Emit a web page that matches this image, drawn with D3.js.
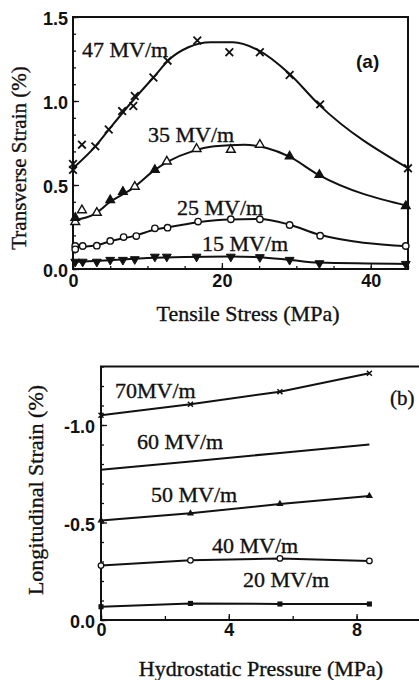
<!DOCTYPE html>
<html>
<head>
<meta charset="utf-8">
<script src="https://cdn.jsdelivr.net/npm/d3@7"></script>
<style>
  html, body { margin: 0; padding: 0; background: #fff; }
  svg { display: block; }
  .serif { font-family: "Liberation Serif", "Times New Roman", serif; fill: #111; stroke: #111; stroke-width: 0.35px; }
  .sans { font-family: "Liberation Sans", Arial, sans-serif; font-weight: bold; fill: #111; }
</style>
</head>
<body>
<svg id="chart" width="419" height="680"></svg>
<script>
// ---------- Panel (a): transverse strain vs tensile stress ----------
const stressTicks = [0, 20, 40];
const transverseTicks = [0, 0.5, 1.0, 1.5];

// measured points [stress MPa, strain %]
const pts47 = [[0,0.625],[0,0.59],[1.2,0.74],[3.0,0.73],[4.8,0.83],[6.6,0.94],[8.1,0.97],[8.3,1.03],[10.8,1.14],[12.7,1.24],[16.7,1.36],[21.0,1.29],[25.1,1.29],[29.1,1.155],[33.2,0.98],[45,0.60]];
const pts35Open = [[0.3,0.28],[1.2,0.35],[3.2,0.335],[8.3,0.49],[12.6,0.64],[16.6,0.715],[21.2,0.71],[25.1,0.74]];
const pts35Filled = [[0.3,0.305],[5.0,0.41],[6.7,0.46],[11.0,0.59],[29.1,0.67],[33.1,0.56],[44.7,0.375]];
const pts25 = [[0.3,0.137],[0.3,0.117],[1.3,0.137],[3.2,0.139],[5.0,0.167],[6.8,0.19],[8.5,0.196],[11.0,0.242],[12.7,0.246],[16.8,0.282],[21.2,0.296],[25.1,0.296],[29.1,0.262],[33.2,0.198],[44.7,0.137]];
const pts15 = [[0.3,0.043],[1.3,0.043],[3.2,0.043],[5.0,0.054],[6.7,0.054],[8.3,0.058],[11.0,0.073],[12.6,0.073],[16.6,0.073],[21.2,0.073],[25.1,0.07],[29.1,0.054],[33.1,0.034],[44.7,0.03]];

// fitted curves through the measurements
const fit47 = [[0,0.60],[3,0.73],[5,0.84],[8,1.00],[10.8,1.14],[13,1.25],[15.5,1.32],[18.5,1.35],[21.5,1.35],[25,1.30],[29,1.165],[33,0.98],[45,0.60]];
const fit35 = [[0,0.29],[3,0.33],[5,0.40],[8,0.48],[11,0.59],[13,0.645],[16,0.70],[19,0.73],[23,0.74],[26,0.72],[29,0.67],[33,0.56],[45,0.375]];
const fit25 = [[0,0.13],[3,0.14],[5,0.165],[8.5,0.20],[11,0.235],[13,0.25],[17,0.28],[21,0.295],[25,0.297],[29,0.265],[33,0.205],[45,0.135]];
const fit15 = [[0,0.042],[5,0.052],[10,0.065],[15,0.072],[21,0.075],[25,0.07],[29,0.055],[33,0.038],[45,0.03]];

const labelsA = ["47 MV/m", "35 MV/m", "25 MV/m", "15 MV/m"];

// ---------- Panel (b): longitudinal strain vs hydrostatic pressure ----------
const pressureTicks = [0, 4, 8];
const longitudinalTicks = [0, -0.5, -1.0];
const pressures = [0, 2.8, 5.6, 8.4];
const long70 = [-1.05, -1.106, -1.171, -1.265];
const long60 = [-0.77, -0.813, -0.857, -0.90];
const long50 = [-0.51, -0.547, -0.595, -0.636];
const long40 = [-0.279, -0.306, -0.316, -0.303];
const long20 = [-0.068, -0.085, -0.082, -0.082];
const labelsB = ["70MV/m", "60 MV/m", "50 MV/m", "40 MV/m", "20 MV/m"];

const svg = d3.select("#chart");
svg.append("rect").attr("width", 419).attr("height", 680).attr("fill", "#fff");

// ===== panel (a) =====
const xA = d3.scaleLinear().domain([0, 45]).range([73, 408]);
const yA = d3.scaleLinear().domain([0, 1.5]).range([269, 17]);
const gA = svg.append("g");

// minor ticks
gA.append("g").attr("transform", "translate(73,0)")
  .call(d3.axisLeft(yA).tickValues(d3.range(0, 1.5001, 0.1)).tickSize(-3).tickFormat(""))
  .call(g => g.select(".domain").remove());
gA.append("g").attr("transform", "translate(0,269)")
  .call(d3.axisBottom(xA).tickValues(d3.range(0, 45.01, 5)).tickSize(-3).tickFormat(""))
  .call(g => g.select(".domain").remove());

const axYA = gA.append("g").attr("transform", "translate(73,0)")
  .call(d3.axisLeft(yA).tickValues(transverseTicks).tickSize(-6).tickPadding(5).tickFormat(d => d.toFixed(1)));
axYA.select(".domain").remove();
axYA.selectAll("text").attr("class", "sans").attr("font-size", 18).attr("dy", "0.42em");

const axXA = gA.append("g").attr("transform", "translate(0,269)")
  .call(d3.axisBottom(xA).tickValues(stressTicks).tickSize(-6).tickPadding(5));
axXA.select(".domain").remove();
axXA.selectAll("text").attr("class", "sans").attr("font-size", 18);
gA.selectAll(".tick line").attr("stroke", "#111").attr("stroke-width", 1.3);

gA.append("rect").attr("x", xA(0)).attr("y", yA(1.5))
  .attr("width", xA(45) - xA(0)).attr("height", yA(0) - yA(1.5))
  .attr("fill", "none").attr("stroke", "#111").attr("stroke-width", 2);

const lineA = d3.line().x(d => xA(d[0])).y(d => yA(d[1])).curve(d3.curveMonotoneX);
[fit47, fit35, fit25, fit15].forEach(f => {
  gA.append("path").datum(f).attr("d", lineA)
    .attr("fill", "none").attr("stroke", "#111").attr("stroke-width", 2);
});

// markers
const cross = d3.symbol().type(d3.symbolX).size(40);
gA.append("g").selectAll("path").data(pts47).join("path")
  .attr("transform", d => `translate(${xA(d[0])},${yA(d[1])})`)
  .attr("d", cross).attr("fill", "none").attr("stroke", "#111").attr("stroke-width", 1.8);

const tri = d3.symbol().type(d3.symbolTriangle).size(34);
gA.append("g").selectAll("path").data(pts35Open).join("path")
  .attr("transform", d => `translate(${xA(d[0])},${yA(d[1])})`)
  .attr("d", tri).attr("fill", "#fff").attr("stroke", "#111").attr("stroke-width", 1.4);
gA.append("g").selectAll("path").data(pts35Filled).join("path")
  .attr("transform", d => `translate(${xA(d[0])},${yA(d[1])})`)
  .attr("d", tri).attr("fill", "#111").attr("stroke", "#111").attr("stroke-width", 1.2);

gA.append("g").selectAll("circle").data(pts25).join("circle")
  .attr("cx", d => xA(d[0])).attr("cy", d => yA(d[1])).attr("r", 3.2)
  .attr("fill", "#fff").attr("stroke", "#111").attr("stroke-width", 1.4);

gA.append("g").selectAll("path").data(pts15).join("path")
  .attr("transform", d => `translate(${xA(d[0])},${yA(d[1])}) rotate(180)`)
  .attr("d", tri).attr("fill", "#111").attr("stroke", "#111").attr("stroke-width", 1);

const labPosA = [[82, 57], [148, 142], [177, 215], [202, 251]];
labelsA.forEach((t, i) => {
  gA.append("text").attr("class", "serif").attr("font-size", 22)
    .attr("x", labPosA[i][0]).attr("y", labPosA[i][1]).text(t);
});
gA.append("text").attr("class", "sans").attr("font-size", 19)
  .attr("x", 356).attr("y", 68).text("(a)");

gA.append("text").attr("class", "serif").attr("font-size", 22)
  .attr("text-anchor", "middle").attr("x", 248).attr("y", 321).text("Tensile Stress (MPa)");
gA.append("text").attr("class", "serif").attr("font-size", 21)
  .attr("text-anchor", "middle").attr("transform", "translate(26,158) rotate(-90)")
  .text("Transverse Strain (%)");

// ===== panel (b) =====
const xB = d3.scaleLinear().domain([0, 10]).range([101, 420.5]);
const yB = d3.scaleLinear().domain([0, -1.3]).range([620, 366.5]);
const gB = svg.append("g");

gB.append("g").attr("transform", "translate(101,0)")
  .call(d3.axisLeft(yB).tickValues(d3.range(0, -1.3001, -0.1)).tickSize(-3).tickFormat(""))
  .call(g => g.select(".domain").remove());
gB.append("g").attr("transform", "translate(0,620)")
  .call(d3.axisBottom(xB).tickValues(d3.range(0, 10.01, 2)).tickSize(-4).tickFormat(""))
  .call(g => g.select(".domain").remove());

const axYB = gB.append("g").attr("transform", "translate(101,0)")
  .call(d3.axisLeft(yB).tickValues(longitudinalTicks).tickSize(-6).tickPadding(6).tickFormat(d => d.toFixed(1)));
axYB.select(".domain").remove();
axYB.selectAll("text").attr("class", "sans").attr("font-size", 18).attr("dy", "0.42em");

const axXB = gB.append("g").attr("transform", "translate(0,620)")
  .call(d3.axisBottom(xB).tickValues(pressureTicks).tickSize(-6).tickPadding(3));
axXB.select(".domain").remove();
axXB.selectAll("text").attr("class", "sans").attr("font-size", 18);
gB.selectAll(".tick line").attr("stroke", "#111").attr("stroke-width", 1.3);

gB.append("rect").attr("x", xB(0)).attr("y", yB(-1.3))
  .attr("width", xB(10) - xB(0)).attr("height", yB(0) - yB(-1.3))
  .attr("fill", "none").attr("stroke", "#111").attr("stroke-width", 2);

const lineB = d3.line().x(d => xB(d[0])).y(d => yB(d[1]));
const seriesB = [long70, long60, long50, long40, long20].map(v => v.map((s, i) => [pressures[i], s]));
seriesB.forEach(s => {
  gB.append("path").datum(s).attr("d", lineB)
    .attr("fill", "none").attr("stroke", "#111").attr("stroke-width", 2);
});

const smallX = d3.symbol().type(d3.symbolX).size(18);
gB.append("g").selectAll("path").data(seriesB[0]).join("path")
  .attr("transform", d => `translate(${xB(d[0])},${yB(d[1])})`)
  .attr("d", smallX).attr("fill", "none").attr("stroke", "#111").attr("stroke-width", 1.5);
const smallTri = d3.symbol().type(d3.symbolTriangle).size(22);
gB.append("g").selectAll("path").data(seriesB[2]).join("path")
  .attr("transform", d => `translate(${xB(d[0])},${yB(d[1])})`)
  .attr("d", smallTri).attr("fill", "#111");
gB.append("g").selectAll("circle").data(seriesB[3]).join("circle")
  .attr("cx", d => xB(d[0])).attr("cy", d => yB(d[1])).attr("r", 2.8)
  .attr("fill", "#fff").attr("stroke", "#111").attr("stroke-width", 1.3);
const smallSq = d3.symbol().type(d3.symbolSquare).size(26);
gB.append("g").selectAll("path").data(seriesB[4]).join("path")
  .attr("transform", d => `translate(${xB(d[0])},${yB(d[1])})`)
  .attr("d", smallSq).attr("fill", "#111");

const labPosB = [[115, 398], [137, 449], [151, 502], [212, 553], [243, 587]];
labelsB.forEach((t, i) => {
  gB.append("text").attr("class", "serif").attr("font-size", 22)
    .attr("x", labPosB[i][0]).attr("y", labPosB[i][1]).text(t);
});
gB.append("text").attr("class", "serif").attr("font-size", 21)
  .attr("x", 390).attr("y", 405).text("(b)");

gB.append("text").attr("class", "serif").attr("font-size", 22)
  .attr("text-anchor", "middle").attr("x", 261).attr("y", 676).text("Hydrostatic Pressure (MPa)");
gB.append("text").attr("class", "serif").attr("font-size", 22)
  .attr("text-anchor", "middle").attr("transform", "translate(43,490) rotate(-90)")
  .text("Longitudinal Strain (%)");
</script>
</body>
</html>
